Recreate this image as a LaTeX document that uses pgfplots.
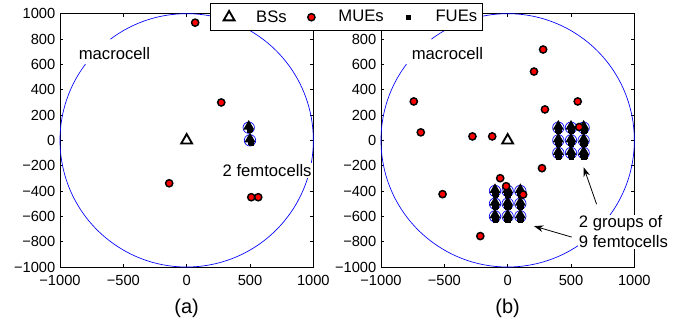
\documentclass[border=0pt]{standalone}
\usepackage{fontspec}
\setmainfont{Liberation Sans}
\usepackage{pgfplots}
\pgfplotsset{compat=1.18}
\usetikzlibrary{arrows.meta}
\tikzset{fc/.style={blue, line width=0.5pt}}
\pgfplotsset{
  mystyle/.style={
    scale only axis, width=190pt, height=190pt,
    xmin=-1000, xmax=1000, ymin=-1000, ymax=1000,
    xtick={-1000,-500,0,500,1000},
    xticklabels={−1000,−500,0,500,1000},
    ytick={-1000,-800,-600,-400,-200,0,200,400,600,800,1000},
    yticklabels={−1000,−800,−600,−400,−200,0,200,400,600,800,1000},
    tick align=inside, tick pos=both, major tick length=2.5pt,
    axis line style={black, line width=0.6pt},
    every tick/.style={black, line width=0.5pt},
    ticklabel style={font=\fontsize{11}{12}\selectfont},
    xticklabel style={yshift=-2.5pt},
    /pgf/number format/assume math mode=true,
    clip=false,
    xlabel style={at={(axis description cs:0.5,0)}, anchor=center, yshift=-31pt, font=\fontsize{15}{17}\selectfont},
  },
  bs/.style={only marks, mark=triangle, mark size=4.7pt, mark options={draw=black, line width=1.4pt, fill=none}},
  fbs/.style={only marks, mark=triangle*, mark size=3.8pt, mark options={draw=black, fill=black, line width=1pt}},
  mue/.style={only marks, mark=*, mark size=2.7pt, mark options={draw=black, fill=red, line width=1.1pt}},
  fue/.style={only marks, mark=square*, mark size=1.6pt, mark options={draw=black, fill=black}},
}
\newcommand{\annfont}{\fontsize{12.5}{15}\selectfont}
\begin{document}
\begin{tikzpicture}[x=1pt,y=1pt]
\useasboundingbox (-45pt,-41.25pt) rectangle (472.5pt,200.25pt);
% ---------- (a)
\begin{axis}[mystyle, at={(0pt,0pt)}, anchor=south west, xlabel={(a)}]
  \draw[blue, line width=0.5pt] (axis cs:0,0) ++(143:95pt) arc[start angle=143, end angle=487, radius=95pt];
  \draw[fc] (axis cs:490,100) circle[radius=45];
  \draw[fc] (axis cs:500,0) circle[radius=45];
  \addplot[bs] coordinates {(0,0)};
  \addplot[fbs] coordinates {(490,110) (500,10)};
  \addplot[mue] coordinates {(67,929) (273,299) (-138,-339) (510,-449) (565,-449)};
  \addplot[fue] coordinates {(505,90) (495,80) (500,-12) (508,-20)};
  \node[font=\annfont] at (axis cs:-570,689) {macrocell};
  \node[font=\annfont, fill=white, inner sep=1pt] at (axis cs:635,-236) {2 femtocells};
\end{axis}
% ---------- (b)
\begin{axis}[mystyle, at={(240.75pt,0pt)}, anchor=south west, xlabel={(b)},
  yticklabels={−1000,−800,−600,−400,−200,0,200,400,600,800,{}},
  legend columns=3,
  legend image code/.code={\path (-12pt,0pt) (18pt,0pt); \draw[#1] plot coordinates {(0pt,0pt)};},
  legend style={at={(-0.137,0.986)}, anchor=center, draw=black, line width=0.6pt,
    font=\fontsize{12.5}{14}\selectfont, inner xsep=2pt, inner ysep=3pt,
    /tikz/every even column/.append style={column sep=4.2pt},
    /tikz/every odd column/.append style={column sep=0pt}},
  legend cell align=left]
  \draw[blue, line width=0.5pt] (axis cs:0,0) ++(143:95pt) arc[start angle=143, end angle=487, radius=95pt];
  \draw[fc] (axis cs:400,100) circle[radius=45];
  \draw[fc] (axis cs:500,100) circle[radius=45];
  \draw[fc] (axis cs:600,100) circle[radius=45];
  \draw[fc] (axis cs:400,0) circle[radius=45];
  \draw[fc] (axis cs:500,0) circle[radius=45];
  \draw[fc] (axis cs:600,0) circle[radius=45];
  \draw[fc] (axis cs:400,-100) circle[radius=45];
  \draw[fc] (axis cs:500,-100) circle[radius=45];
  \draw[fc] (axis cs:600,-100) circle[radius=45];
  \draw[fc] (axis cs:-100,-400) circle[radius=45];
  \draw[fc] (axis cs:0,-400) circle[radius=45];
  \draw[fc] (axis cs:100,-400) circle[radius=45];
  \draw[fc] (axis cs:-100,-500) circle[radius=45];
  \draw[fc] (axis cs:0,-500) circle[radius=45];
  \draw[fc] (axis cs:100,-500) circle[radius=45];
  \draw[fc] (axis cs:-100,-600) circle[radius=45];
  \draw[fc] (axis cs:0,-600) circle[radius=45];
  \draw[fc] (axis cs:100,-600) circle[radius=45];
  \addplot[bs] coordinates {(0,0)};
  \addlegendentry{BSs}
  \addplot[fbs, forget plot] coordinates {(400,110) (500,110) (600,110) (400,10) (500,10) (600,10) (400,-90) (500,-90) (600,-90)
     (-100,-390) (0,-390) (100,-390) (-100,-490) (0,-490) (100,-490) (-100,-590) (0,-590) (100,-590)};
  \addplot[fue, forget plot] coordinates {
     (392,82) (408,78) (400,70) (492,80) (508,84) (500,72) (595,80) (610,78) (600,70)
     (392,-18) (408,-22) (400,-30) (492,-20) (508,-18) (500,-30) (592,-20) (608,-22) (600,-30)
     (392,-118) (408,-122) (400,-130) (492,-120) (508,-118) (500,-130) (592,-120) (608,-122) (600,-130)
     (-108,-418) (-92,-422) (-100,-430) (-8,-420) (8,-418) (0,-430) (92,-420) (108,-422) (100,-430)
     (-108,-518) (-92,-522) (-100,-530) (-8,-520) (8,-518) (0,-530) (92,-520) (108,-522) (100,-530)
     (-108,-618) (-92,-622) (-100,-630) (-8,-620) (8,-618) (0,-630) (92,-620) (108,-622) (100,-630)};
  \addplot[mue] coordinates {(-741,307) (-686,63) (-278,31) (-122,31) (280,717) (208,543) (294,244) (553,307)
     (271,-220) (-514,-425) (-216,-756) (-59,-299) (-12,-362) (122,-428) (565,105)};
  \addlegendentry{MUEs}
  \addplot[fue] coordinates {(2000,2000)};
  \addlegendentry{FUEs}
  \node[font=\annfont] at (axis cs:-475,689) {macrocell};
  \draw[-{Stealth[length=7pt,width=5pt]}, line width=0.6pt] (axis cs:702,-504) -- (axis cs:600,-213);
  \draw[-{Stealth[length=7pt,width=5pt]}, line width=0.6pt] (axis cs:506,-764) -- (axis cs:208,-677);
  \node[font=\annfont, fill=white, align=left, inner sep=1pt] at (axis cs:914,-724) {2 groups of\\9 femtocells};
\end{axis}
\end{tikzpicture}
\end{document}
